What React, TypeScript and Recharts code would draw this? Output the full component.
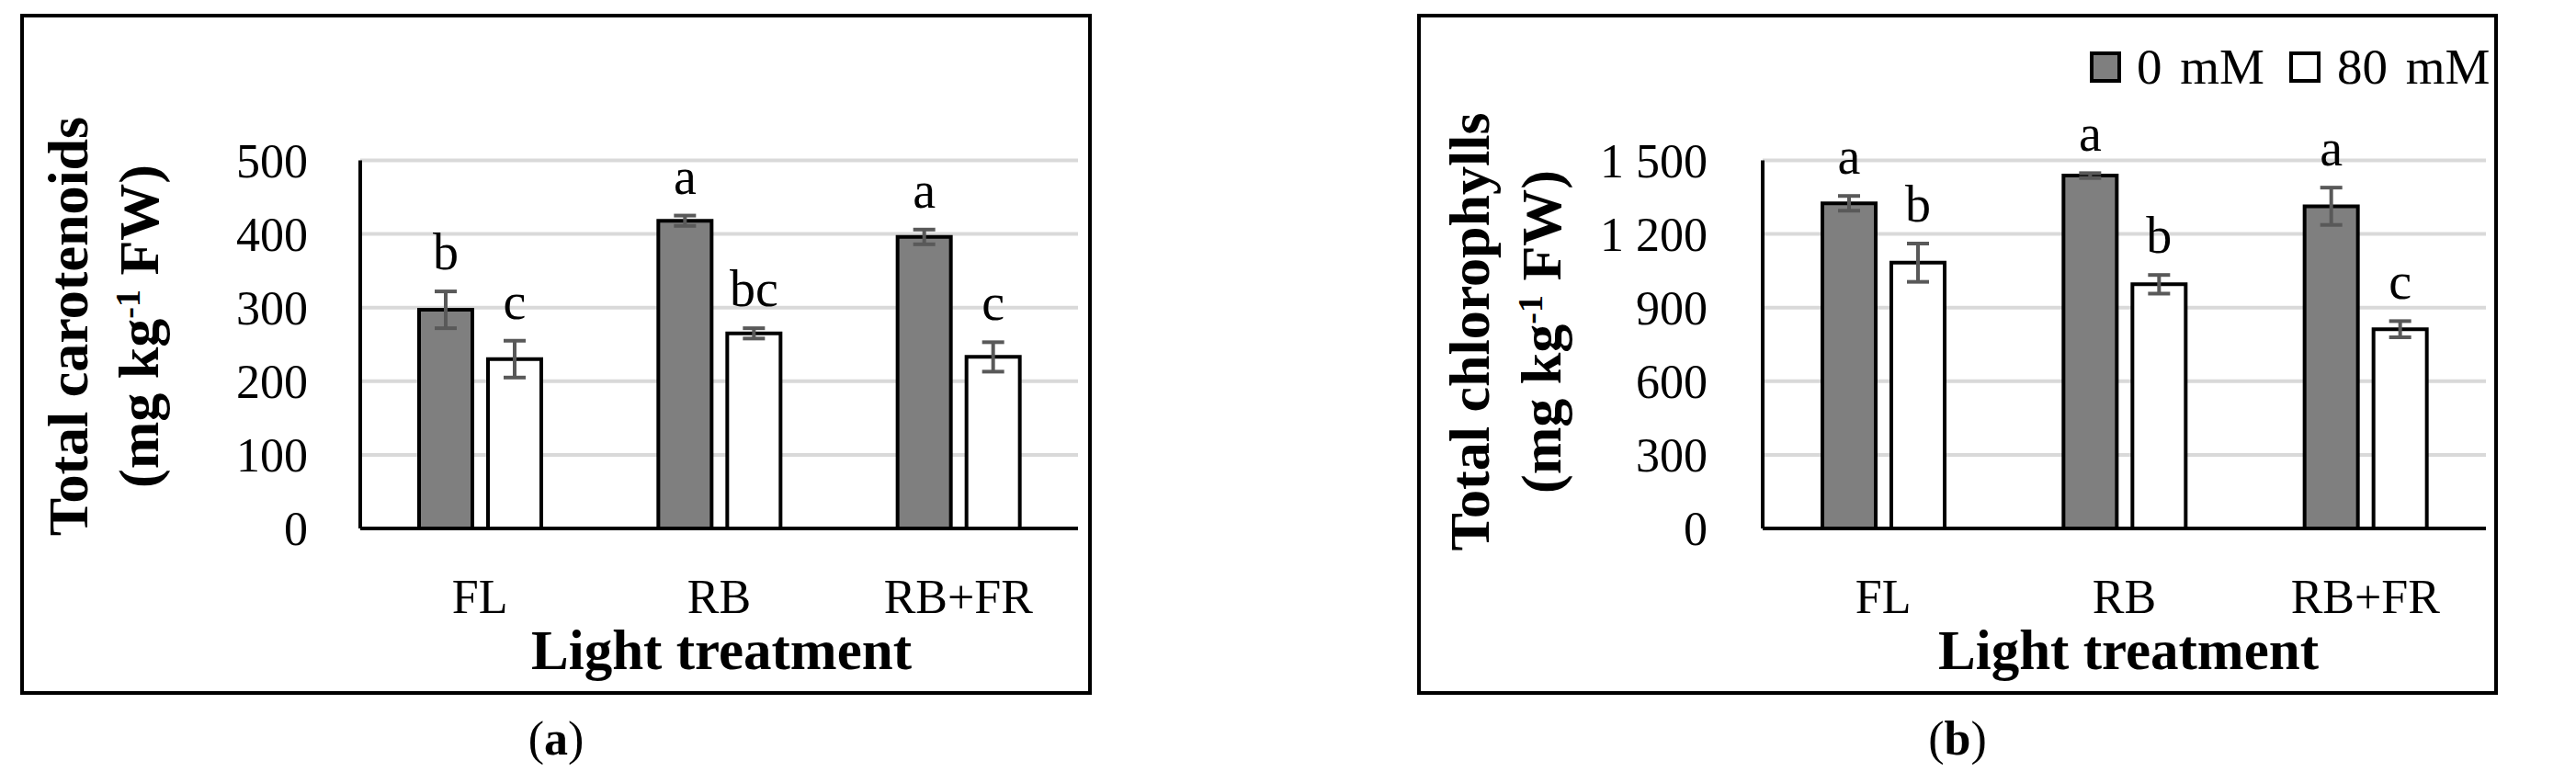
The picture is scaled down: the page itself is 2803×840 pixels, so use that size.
import React from 'react';
import { BarChart, Bar, XAxis, YAxis, CartesianGrid, ErrorBar, LabelList, Legend } from 'recharts';

const categories = ['FL', 'RB', 'RB+FR'];
const seriesNames = ['0 mM', '80 mM'];

// (a) total carotenoids
const carotenoids0 = [297, 418, 396];
const carotenoids80 = [230, 265, 233];
const carotenoidsErr0 = [25, 7, 10];
const carotenoidsErr80 = [25, 7, 20];
const carotenoidsSig0 = ['b', 'a', 'a'];
const carotenoidsSig80 = ['c', 'bc', 'c'];
const carotenoidsTicks = [0, 100, 200, 300, 400, 500];

// (b) total chlorophylls
const chlorophylls0 = [1325, 1438, 1313];
const chlorophylls80 = [1083, 995, 812];
const chlorophyllsErr0 = [30, 10, 76];
const chlorophyllsErr80 = [78, 38, 33];
const chlorophyllsSig0 = ['a', 'a', 'a'];
const chlorophyllsSig80 = ['b', 'b', 'c'];
const chlorophyllsTicks = [0, 300, 600, 900, 1200, 1500];

const FONT = '"Liberation Serif", "Times New Roman", serif';
const DARK = '#7f7f7f';
const GRID = '#d9d9d9';
const ERR = '#595959';

const buildRows = (v0: number[], v80: number[], e0: number[], e80: number[]) =>
  categories.map((name, i) => ({ name, v0: v0[i], v80: v80[i], e0: e0[i], e80: e80[i] }));

const carotenoidRows = buildRows(carotenoids0, carotenoids80, carotenoidsErr0, carotenoidsErr80);
const chlorophyllRows = buildRows(chlorophylls0, chlorophylls80, chlorophyllsErr0, chlorophyllsErr80);

// significance letter sitting above the error bar
const sigLabel = (values: number[], errors: number[], letters: string[]) => (props: any) => {
  const vb = props.viewBox || {};
  const x = props.x ?? vb.x;
  const y = props.y ?? vb.y;
  const w = props.width ?? vb.width;
  const h = props.height ?? vb.height;
  const i = props.index;
  const errPx = values[i] ? (errors[i] * h) / values[i] : 0;
  return (
    <text x={x + w / 2} y={y - errPx - 24} textAnchor="middle" fontFamily={FONT} fontSize={56} fill="#000">
      {letters[i]}
    </text>
  );
};

const renderLegend = () => (
  <svg width={460} height={70} style={{ display: 'block', overflow: 'visible' }}>
    <rect x={2} y={17} width={30} height={30} fill={DARK} stroke="#000" strokeWidth={4} />
    <text x={51} y={50} fontFamily={FONT} fontSize={55} wordSpacing={6} fill="#000">
      {seriesNames[0]}
    </text>
    <rect x={219} y={17} width={30} height={30} fill="#fff" stroke="#000" strokeWidth={4} />
    <text x={269} y={50} fontFamily={FONT} fontSize={55} wordSpacing={6} fill="#000">
      {seriesNames[1]}
    </text>
  </svg>
);

const fmtThousands = (v: number) =>
  v >= 1000 ? `${Math.floor(v / 1000)} ${String(v % 1000).padStart(3, '0')}` : String(v);

interface PanelProps {
  left: number;
  width: number;
  axisWidth: number;
  marginRight: number;
  tickMargin: number;
  data: any[];
  ticks: number[];
  v0: number[];
  v80: number[];
  e0: number[];
  e80: number[];
  sig0: string[];
  sig80: string[];
  format?: (v: number) => string;
  legend?: boolean;
}

const Panel = (p: PanelProps) => {
  const tick = { fill: '#000', fontSize: 52, fontFamily: FONT };
  return (
    <div style={{ position: 'absolute', left: p.left, top: 15, width: p.width, height: 741 }}>
      <BarChart
        width={p.width}
        height={741}
        data={p.data}
        margin={{ top: 159.5, right: p.marginRight, left: 0, bottom: 0 }}
        barSize={58}
        barGap={17}
      >
        <CartesianGrid vertical={false} stroke={GRID} strokeWidth={4} />
        <XAxis
          dataKey="name"
          height={181}
          tickLine={false}
          tickSize={0}
          tickMargin={55}
          axisLine={{ stroke: '#000', strokeWidth: 4 }}
          tick={tick}
        />
        <YAxis
          type="number"
          width={p.axisWidth}
          domain={[0, p.ticks[p.ticks.length - 1]]}
          ticks={p.ticks}
          interval={0}
          tickLine={false}
          tickSize={0}
          tickMargin={p.tickMargin}
          axisLine={{ stroke: '#000', strokeWidth: 4 }}
          tick={tick}
          tickFormatter={p.format}
        />
        {p.legend && (
          <Legend
            layout="horizontal"
            align="center"
            verticalAlign="middle"
            content={renderLegend}
            wrapperStyle={{ left: 732, top: 26, width: 460, height: 70 }}
          />
        )}
        <Bar dataKey="v0" fill={DARK} stroke="#000" strokeWidth={4} isAnimationActive={false}>
          <ErrorBar dataKey="e0" width={12} stroke={ERR} strokeWidth={4} isAnimationActive={false} />
          <LabelList dataKey="v0" content={sigLabel(p.v0, p.e0, p.sig0)} />
        </Bar>
        <Bar dataKey="v80" fill="#fff" stroke="#000" strokeWidth={4} isAnimationActive={false}>
          <ErrorBar dataKey="e80" width={12} stroke={ERR} strokeWidth={4} isAnimationActive={false} />
          <LabelList dataKey="v80" content={sigLabel(p.v80, p.e80, p.sig80)} />
        </Bar>
      </BarChart>
      <div
        style={{
          position: 'absolute',
          inset: 0,
          border: '4px solid #000',
          boxSizing: 'border-box',
          pointerEvents: 'none',
        }}
      />
    </div>
  );
};

const YTitle = ({ x1, x2, y, first }: { x1: number; x2: number; y: number; first: string }) => (
  <g fontFamily={FONT} fontWeight="bold" fontSize={62} fill="#000">
    <text x={x1} y={y} textAnchor="middle" transform={`rotate(-90 ${x1} ${y})`}>
      {first}
    </text>
    <text x={x2} y={y} textAnchor="middle" transform={`rotate(-90 ${x2} ${y})`}>
      (mg kg
      <tspan dy={-20} fontSize={38}>
        -1
      </tspan>
      <tspan dy={20}> FW)</tspan>
    </text>
  </g>
);

const App = () => {
  return (
    <div style={{ position: 'absolute', left: 0, top: 0, width: 2803, height: 840, background: '#fff' }}>
      <Panel
        left={22}
        width={1166}
        axisWidth={370}
        marginRight={15}
        tickMargin={57}
        data={carotenoidRows}
        ticks={carotenoidsTicks}
        v0={carotenoids0}
        v80={carotenoids80}
        e0={carotenoidsErr0}
        e80={carotenoidsErr80}
        sig0={carotenoidsSig0}
        sig80={carotenoidsSig80}
      />
      <Panel
        left={1542}
        width={1176}
        axisWidth={376}
        marginRight={13}
        tickMargin={60}
        data={chlorophyllRows}
        ticks={chlorophyllsTicks}
        v0={chlorophylls0}
        v80={chlorophylls80}
        e0={chlorophyllsErr0}
        e80={chlorophyllsErr80}
        sig0={chlorophyllsSig0}
        sig80={chlorophyllsSig80}
        format={fmtThousands}
        legend
      />
      <svg
        width={2803}
        height={840}
        style={{ position: 'absolute', left: 0, top: 0, pointerEvents: 'none' }}
      >
        <YTitle x1={95} x2={172} y={355} first="Total carotenoids" />
        <YTitle x1={1620} x2={1698} y={361} first="Total chlorophylls" />
        <g fontFamily={FONT} fontWeight="bold" fontSize={61} fill="#000" textAnchor="middle">
          <text x={785} y={728}>Light treatment</text>
          <text x={2316} y={728}>Light treatment</text>
        </g>
        <g fontFamily={FONT} fontSize={52} fill="#000" textAnchor="middle">
          <text x={605} y={821}>
            (<tspan fontWeight="bold">a</tspan>)
          </text>
          <text x={2130} y={821}>
            (<tspan fontWeight="bold">b</tspan>)
          </text>
        </g>
      </svg>
    </div>
  );
};

export default App;
